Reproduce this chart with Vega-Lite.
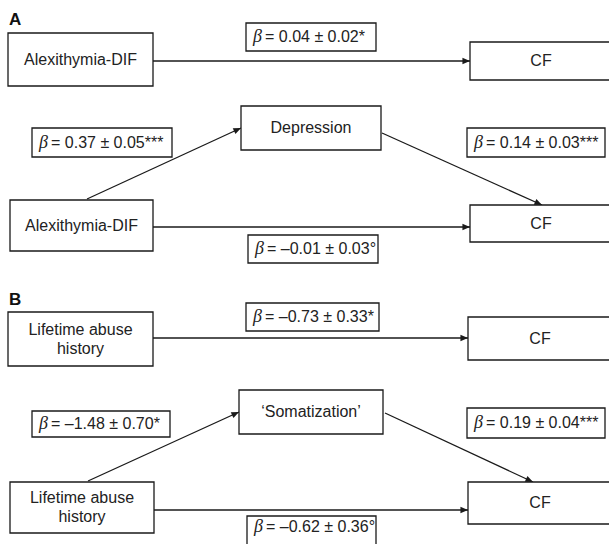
{
  "$schema": "https://vega.github.io/schema/vega-lite/v6.json",
  "width": 609,
  "height": 544,
  "autosize": {"type": "fit", "contains": "padding"},
  "padding": 0,
  "background": "white",
  "config": {"view": {"stroke": null}},
  "datasets": {
    "boxes": [
      {"x1": 8, "x2": 153, "y1": 33, "y2": 86, "label": "Alexithymia-DIF"},
      {"x1": 470, "x2": 612, "y1": 42, "y2": 80, "label": "CF"},
      {"x1": 241, "x2": 381, "y1": 106, "y2": 150, "label": "Depression"},
      {"x1": 10, "x2": 153, "y1": 200, "y2": 251, "label": "Alexithymia-DIF"},
      {"x1": 470, "x2": 612, "y1": 205, "y2": 242, "label": "CF"},
      {"x1": 8, "x2": 153, "y1": 312, "y2": 366, "label": "Lifetime abuse\nhistory"},
      {"x1": 468, "x2": 612, "y1": 317, "y2": 360, "label": "CF"},
      {"x1": 239, "x2": 383, "y1": 390, "y2": 434, "label": "‘Somatization’"},
      {"x1": 10, "x2": 154, "y1": 482, "y2": 533, "label": "Lifetime abuse\nhistory"},
      {"x1": 468, "x2": 612, "y1": 482, "y2": 524, "label": "CF"}
    ],
    "arrows": [
      {"x1": 153, "y1": 61, "x2": 470, "y2": 61},
      {"x1": 87, "y1": 199, "x2": 241, "y2": 128},
      {"x1": 382, "y1": 133, "x2": 542, "y2": 205},
      {"x1": 153, "y1": 227, "x2": 470, "y2": 227},
      {"x1": 153, "y1": 338, "x2": 468, "y2": 338},
      {"x1": 88, "y1": 481, "x2": 239, "y2": 412},
      {"x1": 385, "y1": 413, "x2": 533, "y2": 482},
      {"x1": 154, "y1": 510, "x2": 468, "y2": 510}
    ],
    "coefs": [
      {"x1": 246, "x2": 376, "y1": 23, "y2": 51, "value": "= 0.04 ± 0.02*"},
      {"x1": 32, "x2": 172, "y1": 128, "y2": 157, "value": "= 0.37 ± 0.05***"},
      {"x1": 467, "x2": 605, "y1": 128, "y2": 157, "value": "= 0.14 ± 0.03***"},
      {"x1": 248, "x2": 378, "y1": 235, "y2": 263, "value": "= –0.01 ± 0.03°"},
      {"x1": 246, "x2": 379, "y1": 303, "y2": 331, "value": "= –0.73 ± 0.33*"},
      {"x1": 32, "x2": 170, "y1": 411, "y2": 437, "value": "= –1.48 ± 0.70*"},
      {"x1": 467, "x2": 605, "y1": 408, "y2": 438, "value": "= 0.19 ± 0.04***"},
      {"x1": 247, "x2": 376, "y1": 516, "y2": 552, "ym": 527, "value": "= –0.62 ± 0.36°"}
    ],
    "panels": [
      {"x": 9, "y": 25, "letter": "A"},
      {"x": 9, "y": 305, "letter": "B"}
    ]
  },
  "layer": [
    {
      "data": {"name": "arrows"},
      "mark": {"type": "rule", "color": "#1a1a1a", "strokeWidth": 1.3},
      "encoding": {
        "x": {"field": "x1", "type": "quantitative", "scale": {"domain": [0, 609], "nice": false, "zero": false}, "axis": null},
        "y": {"field": "y1", "type": "quantitative", "scale": {"domain": [0, 544], "nice": false, "zero": false, "reverse": true}, "axis": null},
        "x2": {"field": "x2"},
        "y2": {"field": "y2"}
      }
    },
    {
      "data": {"name": "arrows"},
      "transform": [
        {"calculate": "atan2(datum.x2 - datum.x1, -(datum.y2 - datum.y1)) * 180 / PI", "as": "ang"}
      ],
      "mark": {"type": "point", "shape": "M0,0L0.42,1L-0.42,1Z", "filled": true, "color": "#1a1a1a", "opacity": 1, "size": 230, "strokeWidth": 0},
      "encoding": {
        "x": {"field": "x2", "type": "quantitative", "axis": null},
        "y": {"field": "y2", "type": "quantitative", "axis": null},
        "angle": {"field": "ang", "type": "quantitative", "scale": null}
      }
    },
    {
      "data": {"name": "boxes"},
      "mark": {"type": "rect", "fill": "white", "stroke": "#1a1a1a", "strokeWidth": 1.3, "clip": true},
      "encoding": {
        "x": {"field": "x1", "type": "quantitative", "axis": null},
        "x2": {"field": "x2"},
        "y": {"field": "y1", "type": "quantitative", "axis": null},
        "y2": {"field": "y2"}
      }
    },
    {
      "data": {"name": "boxes"},
      "transform": [
        {"calculate": "(datum.x1 + datum.x2) / 2", "as": "cx"},
        {"calculate": "(datum.y1 + datum.y2) / 2 - (indexof(datum.label, '\\n') >= 0 ? 9.5 : 0)", "as": "cy"}
      ],
      "mark": {"type": "text", "font": "Liberation Sans", "fontSize": 16, "color": "#222", "align": "center", "baseline": "middle", "lineBreak": "\n", "lineHeight": 19},
      "encoding": {
        "x": {"field": "cx", "type": "quantitative", "axis": null},
        "y": {"field": "cy", "type": "quantitative", "axis": null},
        "text": {"field": "label"}
      }
    },
    {
      "data": {"name": "coefs"},
      "mark": {"type": "rect", "fill": "white", "stroke": "#1a1a1a", "strokeWidth": 1.3, "clip": true},
      "encoding": {
        "x": {"field": "x1", "type": "quantitative", "axis": null},
        "x2": {"field": "x2"},
        "y": {"field": "y1", "type": "quantitative", "axis": null},
        "y2": {"field": "y2"}
      }
    },
    {
      "data": {"name": "coefs"},
      "transform": [
        {"calculate": "isValid(datum.ym) ? datum.ym : (datum.y1 + datum.y2) / 2", "as": "cy"}
      ],
      "mark": {"type": "text", "text": "β", "font": "Liberation Serif", "fontStyle": "italic", "fontSize": 18, "color": "#222", "align": "left", "baseline": "middle", "dx": 7},
      "encoding": {
        "x": {"field": "x1", "type": "quantitative", "axis": null},
        "y": {"field": "cy", "type": "quantitative", "axis": null}
      }
    },
    {
      "data": {"name": "coefs"},
      "transform": [
        {"calculate": "isValid(datum.ym) ? datum.ym : (datum.y1 + datum.y2) / 2", "as": "cy"}
      ],
      "mark": {"type": "text", "font": "Liberation Sans", "fontSize": 16, "color": "#222", "align": "left", "baseline": "middle", "dx": 19},
      "encoding": {
        "x": {"field": "x1", "type": "quantitative", "axis": null},
        "y": {"field": "cy", "type": "quantitative", "axis": null},
        "text": {"field": "value"}
      }
    },
    {
      "data": {"name": "panels"},
      "mark": {"type": "text", "font": "Liberation Sans", "fontWeight": "bold", "fontSize": 17, "color": "#111", "align": "left", "baseline": "alphabetic"},
      "encoding": {
        "x": {"field": "x", "type": "quantitative", "axis": null},
        "y": {"field": "y", "type": "quantitative", "axis": null},
        "text": {"field": "letter"}
      }
    }
  ]
}
